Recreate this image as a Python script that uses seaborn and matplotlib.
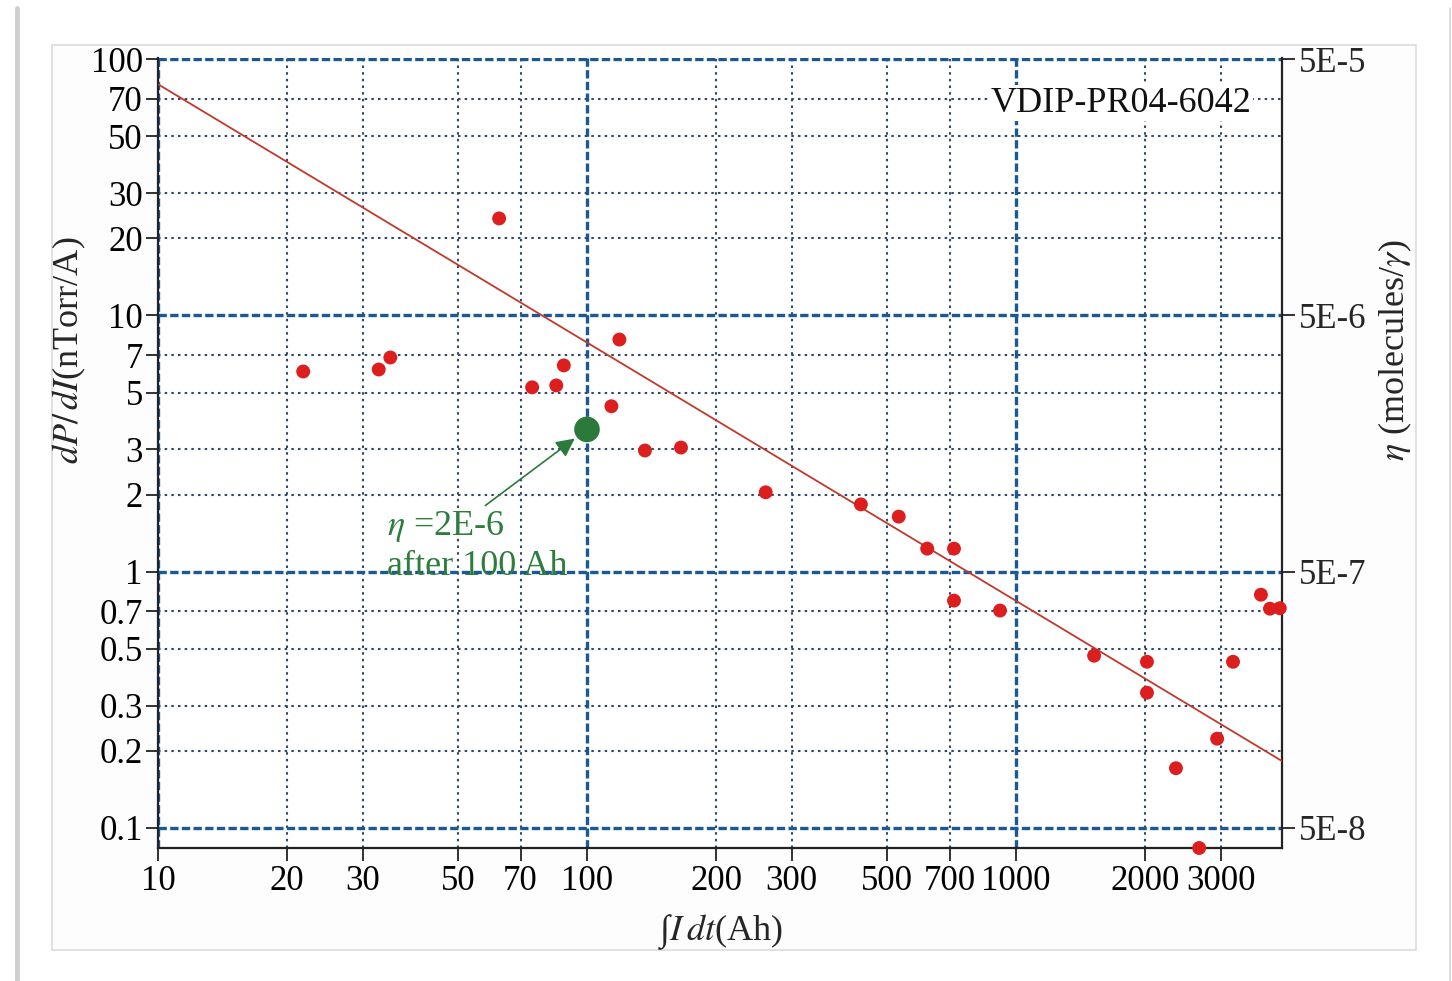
import numpy as np
import pandas as pd
import matplotlib
matplotlib.use("Agg")
import matplotlib.pyplot as plt
from matplotlib.patches import Rectangle
from matplotlib.lines import Line2D
from matplotlib.ticker import FixedLocator, NullFormatter
import seaborn as sns

# ---------------- data ----------------
charge_ah = [21.8, 32.7, 34.8, 62.4, 74.5, 84.8, 88.3, 119, 114, 136.5, 165.6,
             261, 435, 533, 621, 717, 717, 918, 1521, 2020, 2020, 2360, 2944,
             2673, 3206, 3724, 3909, 4120]
dp_di = [6.04, 6.15, 6.85, 23.9, 5.24, 5.33, 6.38, 8.05, 4.42, 2.97, 3.05,
         2.04, 1.83, 1.64, 1.23, 1.23, 0.771, 0.705, 0.470, 0.445, 0.337, 0.171,
         0.223, 0.0835, 0.445, 0.813, 0.717, 0.72]

highlight_x = [100]
highlight_y = [3.59]

fit_coef = 813.0
fit_exp = -1.008

eta_factor = 5e-7  # eta = factor * dP/dI

x_ticks = [10, 20, 30, 50, 70, 100, 200, 300, 500, 700, 1000, 2000, 3000]
y_ticks = [0.1, 0.2, 0.3, 0.5, 0.7, 1, 2, 3, 5, 7, 10, 20, 30, 50, 70, 100]
y_tick_labels = ["0.1", "0.2", "0.3", "0.5", "0.7", "1", "2", "3", "5", "7",
                 "10", "20", "30", "50", "70", "100"]
eta_ticks = [5e-8, 5e-7, 5e-6, 5e-5]
eta_tick_labels = ["5E-8", "5E-7", "5E-6", "5E-5"]

x_limits = (10, 4170)
y_limits = (0.0835, 101)

chart_id = "VDIP-PR04-6042"
note_text = "$\\eta$ =2E-6\nafter 100 Ah"

# ---------------- style ----------------
sns.set_style("white")
plt.rcParams["font.family"] = ["Liberation Serif", "DejaVu Serif"]
plt.rcParams["mathtext.fontset"] = "stix"

fig = plt.figure(figsize=(14.52, 9.81), dpi=100)
fig.patch.set_facecolor("white")

# light panel frame (screenshot look)
frame = Rectangle((52 / 1452, 1 - 950 / 981), 1364 / 1452, 905 / 981,
                  transform=fig.transFigure, facecolor="#fdfdfd",
                  edgecolor="#dcdcdc", lw=1.2, zorder=-10)
fig.patches.append(frame)
fig.lines.append(Line2D([17 / 1452, 17 / 1452], [0, 1 - 8 / 981], transform=fig.transFigure,
                        color="#cfcfcf", lw=3.5, zorder=-10))
fig.lines.append(Line2D([1450 / 1452, 1450 / 1452], [0, 1 - 8 / 981], transform=fig.transFigure,
                        color="#d5d5d5", lw=1.2, zorder=-10))

ax = fig.add_axes([158 / 1452, 1 - 848 / 981, 1124 / 1452, 790 / 981])
ax.set_facecolor("white")

df = pd.DataFrame({"charge": charge_ah, "dpdi": dp_di})
hl = pd.DataFrame({"charge": highlight_x, "dpdi": highlight_y})

ax.set_xscale("log")
ax.set_yscale("log")
ax.set_xlim(*x_limits)
ax.set_ylim(*y_limits)

# fit line
fx = np.geomspace(x_limits[0], x_limits[1], 200)
fit_df = pd.DataFrame({"charge": fx, "dpdi": fit_coef * fx ** fit_exp})
sns.lineplot(data=fit_df, x="charge", y="dpdi", ax=ax, color="#c0392b", lw=1.3,
             zorder=3)

sns.scatterplot(data=df, x="charge", y="dpdi", ax=ax, color="#dc1e1e", s=100,
                edgecolor="none", zorder=4, clip_on=False)
sns.scatterplot(data=hl, x="charge", y="dpdi", ax=ax, color="#2b7a3b", s=340,
                edgecolor="none", zorder=5)

ax.set_xlim(*x_limits)
ax.set_ylim(*y_limits)

# ticks
major_x = [t for t in x_ticks if np.isclose(np.log10(t) % 1, 0)]
minor_x = [t for t in x_ticks if t not in major_x]
ax.set_xticks(major_x, [str(t) for t in major_x])
ax.set_xticks(minor_x, [str(t) for t in minor_x], minor=True)

major_idx = [i for i, t in enumerate(y_ticks) if np.isclose(np.log10(t) % 1, 0)]
minor_idx = [i for i in range(len(y_ticks)) if i not in major_idx]
ax.set_yticks([y_ticks[i] for i in major_idx], [y_tick_labels[i] for i in major_idx])
ax.set_yticks([y_ticks[i] for i in minor_idx], [y_tick_labels[i] for i in minor_idx], minor=True)

for which in ("major", "minor"):
    ax.tick_params(axis="both", which=which, direction="out", length=9, width=1.3,
                   color="#222222", labelsize=25, pad=3, labelcolor="black",
                   bottom=True, left=True)
ax.tick_params(axis="y", which="both", pad=2)

ax.grid(which="major", color="#1a5896", linestyle=(0, (2.5, 1.0)), lw=2.4, zorder=1)
ax.grid(which="minor", color="#34496a", linestyle=(0, (1.2, 2.0)), lw=1.5, zorder=1)
ax.set_axisbelow(True)

for side in ("left", "bottom", "right"):
    ax.spines[side].set_visible(True)
    ax.spines[side].set_color("#222222")
    ax.spines[side].set_linewidth(1.6)
ax.spines["top"].set_visible(False)

ax.set_xlabel("∫$I\\,dt$(Ah)", fontsize=26)
ax.xaxis.set_label_coords(0.5, -0.082)
ax.set_ylabel("$dP/\\,dI$(nTorr/A)", fontsize=26)
ax.yaxis.set_label_coords(-0.062, 0.63)

# right axis
ax2 = ax.twinx()
ax2.set_yscale("log")
ax2.set_ylim(y_limits[0] * eta_factor, y_limits[1] * eta_factor)
ax2.set_yticks(eta_ticks, eta_tick_labels)
ax2.yaxis.set_minor_locator(FixedLocator([]))
ax2.yaxis.set_minor_formatter(NullFormatter())
ax2.tick_params(axis="y", which="major", direction="out", length=9, width=1.3,
                color="#222222", labelsize=25, pad=3, right=True)
for s in ax2.spines.values():
    s.set_visible(False)
ax2.grid(False)
ax2.set_ylabel("$\\eta$ (molecules/$\\gamma$)", fontsize=26, rotation=90, va="center")
ax2.yaxis.set_label_coords(1.1005, 0.63)

# texts
ax.text(0.973, 0.943, chart_id, transform=ax.transAxes, ha="right", va="center",
        fontsize=26, color="#111111", zorder=6,
        bbox=dict(facecolor="white", edgecolor="none", pad=1))

ax.annotate(note_text, xy=(highlight_x[0], highlight_y[0]), xycoords="data",
            xytext=(34.2, 1.26), textcoords="data", ha="left", va="center",
            fontsize=26, color="#2e7d3c", linespacing=1.25, zorder=6,
            arrowprops=dict(arrowstyle="-|>", color="#3a5a40", lw=1.2,
                            mutation_scale=28, shrinkA=0, shrinkB=11,
                            relpos=(0.52, 1.0), fc="#2b7a3b", ec="#2b7a3b"))

fig.savefig("out.png", dpi=100, facecolor="white")
